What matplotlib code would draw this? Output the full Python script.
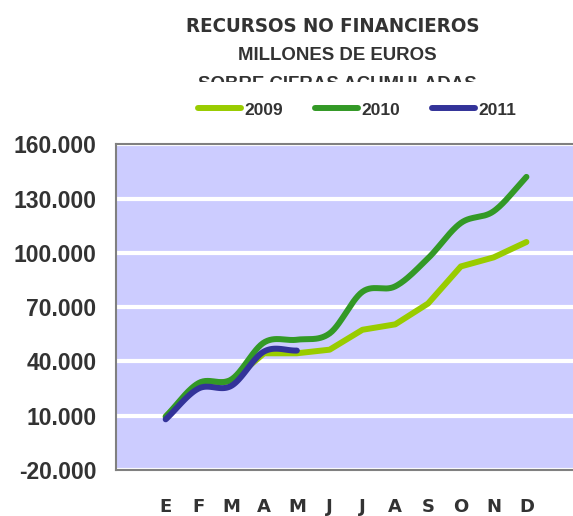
import numpy as np
import matplotlib
matplotlib.use("Agg")
import matplotlib.pyplot as plt
from matplotlib.lines import Line2D
from matplotlib.patches import Rectangle

months = ["E", "F", "M", "A", "M", "J", "J", "A", "S", "O", "N", "D"]
y2009 = [9500, 27500, 29000, 44500, 44500, 46500, 57500, 60500, 72000, 92500, 97500, 106000]
y2010 = [9500, 28000, 30000, 50500, 52000, 55500, 78500, 81500, 97000, 116500, 123000, 142000]
y2011 = [8000, 25000, 26500, 45500, 46000]
yticks = [-20000, 10000, 40000, 70000, 100000, 130000, 160000]
ytick_labels = ["-20.000", "10.000", "40.000", "70.000", "100.000", "130.000", "160.000"]

TXT = "#333333"


def smooth(xs, ys, n=30):
    """Catmull-Rom rendering of a smoothed line through the data points."""
    xs = np.asarray(xs, float)
    ys = np.asarray(ys, float)
    px = np.concatenate([[2 * xs[0] - xs[1]], xs, [2 * xs[-1] - xs[-2]]])
    py = np.concatenate([[2 * ys[0] - ys[1]], ys, [2 * ys[-1] - ys[-2]]])
    ox, oy = [], []
    t = np.linspace(0, 1, n)
    for i in range(1, len(px) - 2):
        p0, p1, p2, p3 = [np.array([px[j], py[j]]) for j in (i - 1, i, i + 1, i + 2)]
        for tt in t:
            pt = 0.5 * ((2 * p1) + (-p0 + p2) * tt + (2 * p0 - 5 * p1 + 4 * p2 - p3) * tt ** 2
                        + (-p0 + 3 * p1 - 3 * p2 + p3) * tt ** 3)
            ox.append(pt[0])
            oy.append(pt[1])
    return ox, oy


fig = plt.figure(figsize=(5.73, 5.16), dpi=100)
ax = fig.add_axes([116 / 573, 46 / 516, 1 - 116 / 573, (470 - 144.3) / 516])
ax.set_facecolor("#CCCCFF")

x = np.arange(len(months))
ax.plot(x, y2009, color="#99CC00", lw=4.3, solid_capstyle="round", solid_joinstyle="round", zorder=3)
sx, sy = smooth(x, y2010)
ax.plot(sx, sy, color="#339926", lw=4.3, solid_capstyle="round", zorder=4)
sx, sy = smooth(x[:len(y2011)], y2011)
ax.plot(sx, sy, color="#333399", lw=4.3, solid_capstyle="round", zorder=5)

ax.set_xlim(-1.515, 12.42)
ax.set_ylim(-20000, 160000)
ax.set_yticks(yticks)
ax.set_yticklabels(ytick_labels, fontsize=16.5, fontweight="bold", color=TXT,
                   family=["Liberation Sans", "DejaVu Sans"])
ax.set_xticks(x)
ax.set_xticklabels(months, fontsize=13, fontweight="bold", color=TXT, family="DejaVu Sans")
ax.tick_params(axis="x", length=0, pad=20)
ax.tick_params(axis="y", length=0, pad=14)
ax.grid(axis="y", color="white", lw=3, zorder=1)
ax.set_axisbelow(True)
for s in ["top", "left", "bottom"]:
    ax.spines[s].set_color("#808080")
    ax.spines[s].set_linewidth(1.5)
ax.spines["right"].set_visible(False)

fig.text(333 / 573, 1 - 26.5 / 516, "RECURSOS NO FINANCIEROS", ha="center", va="center",
         fontsize=14.7, fontweight="bold", fontstretch="condensed", color=TXT,
         family=["DejaVu Sans"])
fig.text(337 / 573, 1 - 56 / 516, "MILLONES DE EUROS", ha="center", va="center",
         fontsize=13.4, fontweight="bold", color=TXT, family=["Liberation Sans", "DejaVu Sans"])
fig.text(337 / 573, 1 - 84 / 516, "SOBRE CIFRAS ACUMULADAS", ha="center", va="center",
         fontsize=13.4, fontweight="bold", color=TXT, family=["Liberation Sans", "DejaVu Sans"])
fig.patches.append(Rectangle((0, 1 - 100 / 516), 1, 18 / 516, transform=fig.transFigure,
                             facecolor="white", edgecolor="none", zorder=10))

handles = [Line2D([], [], color=c, lw=4.3, solid_capstyle="round")
           for c in ["#99CC00", "#339926", "#333399"]]
leg = fig.legend(handles, ["2009", "2010", "2011"], loc="center", ncol=3,
                 bbox_to_anchor=(357 / 573, 1 - 110 / 516), frameon=False,
                 prop={"family": ["Liberation Sans", "DejaVu Sans"], "weight": "bold", "size": 12.5},
                 handlelength=2.47, handletextpad=0.2, columnspacing=1.84, borderpad=0)
leg.set_zorder(11)
for t in leg.get_texts():
    t.set_color(TXT)

fig.savefig("out.png", dpi=100)
